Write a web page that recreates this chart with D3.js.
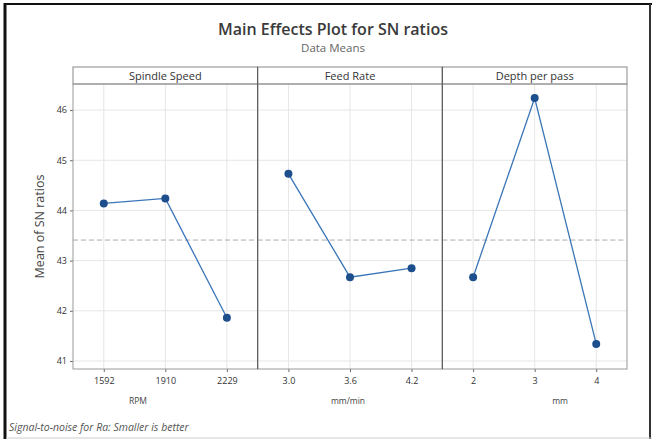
<!DOCTYPE html>
<meta charset="utf-8">
<script src="https://d3js.org/d3.v7.min.js"></script>
<style>
  body { margin: 0; background: #fff; }
  text { font-family: "Open Sans", "Noto Sans", sans-serif; }
</style>
<div id="my_dataviz"></div>
<script>
// factors and their levels
var factors = ["Spindle Speed", "Feed Rate", "Depth per pass"];
var units = ["RPM", "mm/min", "mm"];
var levels = [["1592", "1910", "2229"], ["3.0", "3.6", "4.2"], ["2", "3", "4"]];

// mean SN ratio at each level
var spindleMeans = [44.14, 44.24, 41.86];
var feedMeans = [44.73, 42.67, 42.85];
var depthMeans = [42.67, 46.24, 41.34];
var grandMean = 43.41;

var yTicks = [41, 42, 43, 44, 45, 46];

var means = [spindleMeans, feedMeans, depthMeans];

var width = 652, height = 439;
var plotLeft = 73, plotRight = 627, stripTop = 67, plotTop = 84, plotBottom = 369;
var panelW = (plotRight - plotLeft) / 3;

var svg = d3.select("#my_dataviz")
  .append("svg")
    .attr("width", width)
    .attr("height", height);

svg.append("rect").attr("width", width).attr("height", height).attr("fill", "#fff");

// screenshot frame
svg.append("line").attr("x1", 5).attr("x2", 5).attr("y1", 3).attr("y2", height)
  .attr("stroke", "#111").attr("stroke-width", 3);
svg.append("line").attr("x1", 4).attr("x2", width).attr("y1", 4).attr("y2", 4)
  .attr("stroke", "#111").attr("stroke-width", 2);
svg.append("line").attr("x1", 650).attr("x2", 650).attr("y1", 4).attr("y2", height)
  .attr("stroke", "#333").attr("stroke-width", 2);
svg.append("line").attr("x1", 6).attr("x2", width).attr("y1", 438).attr("y2", 438)
  .attr("stroke", "#ccc").attr("stroke-width", 1);

// titles
svg.append("text")
  .attr("x", 333).attr("y", 35)
  .attr("text-anchor", "middle")
  .style("font-size", "16px")
  .style("font-weight", "600")
  .attr("fill", "#3a3a3a")
  .text("Main Effects Plot for SN ratios");
svg.append("text")
  .attr("x", 333).attr("y", 52)
  .attr("text-anchor", "middle")
  .style("font-size", "11.5px")
  .attr("fill", "#666")
  .text("Data Means");

var y = d3.scaleLinear()
  .domain([40.84, 46.52])
  .range([plotBottom, plotTop]);

// y axis
var yAxis = svg.append("g")
  .attr("transform", "translate(" + plotLeft + ",0)")
  .call(d3.axisLeft(y).tickValues(yTicks).tickSize(3).tickFormat(d3.format("d")));
yAxis.select(".domain").remove();
yAxis.selectAll("line").attr("stroke", "#666");
yAxis.selectAll("text").attr("fill", "#333").style("font-size", "9px")
  .style("font-family", "'Open Sans', sans-serif");

svg.append("text")
  .attr("transform", "translate(44," + ((plotTop + plotBottom) / 2) + ")rotate(-90)")
  .attr("text-anchor", "middle")
  .style("font-size", "12.5px")
  .attr("fill", "#444")
  .text("Mean of SN ratios");

// unit label offsets
var unitX = [138, 348, 560];

factors.forEach(function(f, i) {
  var x0 = plotLeft + i * panelW;
  var x = d3.scalePoint()
    .domain(levels[i])
    .range([x0, x0 + panelW])
    .padding(0.5);

  var g = svg.append("g");

  // horizontal grid
  g.selectAll("hgrid")
    .data(yTicks)
    .enter()
    .append("line")
      .attr("x1", x0).attr("x2", x0 + panelW)
      .attr("y1", function(d) { return y(d); })
      .attr("y2", function(d) { return y(d); })
      .attr("stroke", "#e6e6e6");

  // vertical grid
  g.selectAll("vgrid")
    .data(levels[i])
    .enter()
    .append("line")
      .attr("x1", function(d) { return x(d); })
      .attr("x2", function(d) { return x(d); })
      .attr("y1", plotTop).attr("y2", plotBottom)
      .attr("stroke", "#e6e6e6");

  // reference line for the overall mean
  g.append("line")
    .attr("x1", x0).attr("x2", x0 + panelW)
    .attr("y1", y(grandMean)).attr("y2", y(grandMean))
    .attr("stroke", "#aaa")
    .attr("stroke-dasharray", "5,3");

  // x axis
  var xa = g.append("g")
    .attr("transform", "translate(0," + plotBottom + ")")
    .call(d3.axisBottom(x).tickSize(3).tickPadding(6));
  xa.select(".domain").remove();
  xa.selectAll("line").attr("stroke", "#666");
  xa.selectAll("text").attr("fill", "#333").style("font-size", "9px")
    .style("font-family", "'Open Sans', sans-serif");

  g.append("text")
    .attr("x", unitX[i]).attr("y", 404)
    .attr("text-anchor", "middle")
    .style("font-size", "8.5px")
    .attr("fill", "#444")
    .text(units[i]);

  // strip
  g.append("rect")
    .attr("x", x0).attr("y", stripTop)
    .attr("width", panelW).attr("height", plotTop - stripTop)
    .attr("fill", "#fff")
    .attr("stroke", "#888");
  g.append("text")
    .attr("x", x0 + panelW / 2).attr("y", plotTop - 4)
    .attr("text-anchor", "middle")
    .style("font-size", "11px")
    .attr("fill", "#333")
    .text(f);

  // panel frame
  g.append("rect")
    .attr("x", x0).attr("y", plotTop)
    .attr("width", panelW).attr("height", plotBottom - plotTop)
    .attr("fill", "none")
    .attr("stroke", "#999");

  // connecting line
  var line = d3.line()
    .x(function(d, j) { return x(levels[i][j]); })
    .y(function(d) { return y(d); });
  g.append("path")
    .datum(means[i])
    .attr("d", line)
    .attr("fill", "none")
    .attr("stroke", "#3a75b8")
    .attr("stroke-width", 1.3);

  g.selectAll("pts")
    .data(means[i])
    .enter()
    .append("circle")
      .attr("cx", function(d, j) { return x(levels[i][j]); })
      .attr("cy", function(d) { return y(d); })
      .attr("r", 4)
      .attr("fill", "#1d4f8c");
});

// darker dividers between panels
svg.selectAll("dividers")
  .data([1, 2])
  .enter()
  .append("line")
    .attr("x1", function(d) { return plotLeft + d * panelW; })
    .attr("x2", function(d) { return plotLeft + d * panelW; })
    .attr("y1", stripTop).attr("y2", plotBottom)
    .attr("stroke", "#555");

// footnote
svg.append("text")
  .attr("x", 9).attr("y", 431)
  .style("font-size", "10.5px")
  .style("font-style", "italic")
  .attr("fill", "#555")
  .text("Signal-to-noise for Ra: Smaller is better");
</script>
